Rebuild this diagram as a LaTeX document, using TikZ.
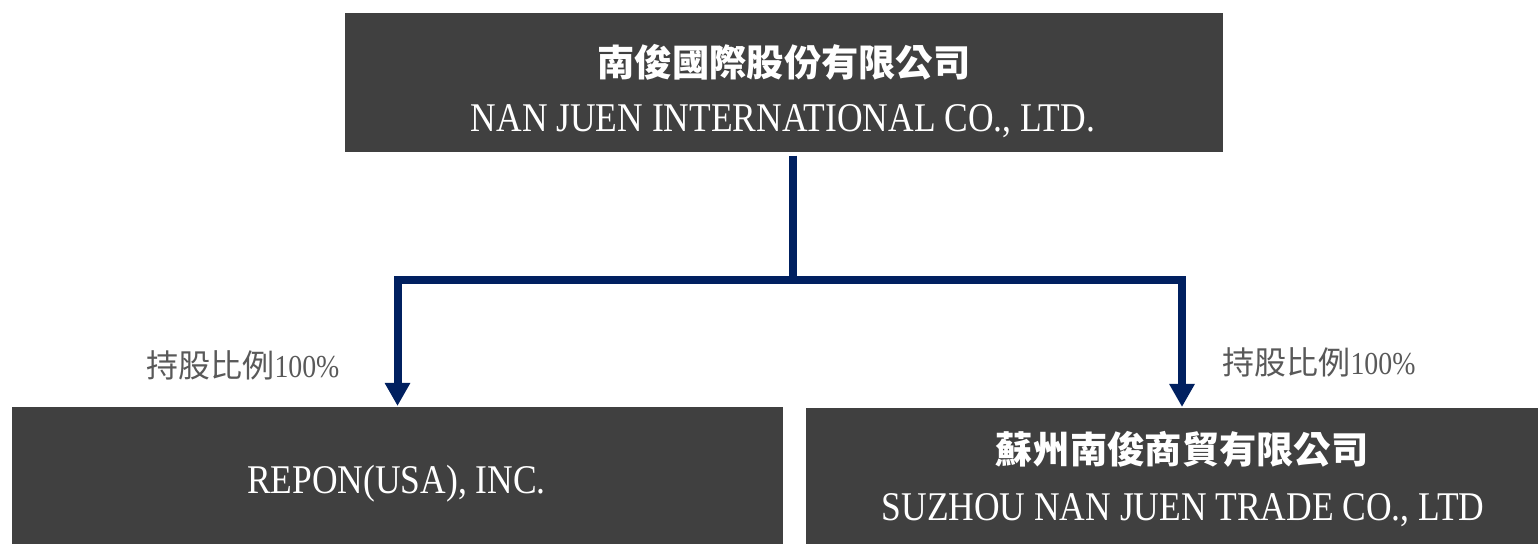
\documentclass[tikz,border=0pt]{standalone}
\usepackage{fontspec}
\setmainfont{Liberation Serif}[FakeStretch=0.87]
\newfontfamily\cjk{Noto Sans CJK TC}
\usetikzlibrary{arrows.meta,positioning}

\definecolor{boxgrey}{HTML}{404040}
\definecolor{linkblue}{HTML}{002060}
\definecolor{sharegrey}{HTML}{595959}

\tikzset{
	boxnode/.style = {fill=boxgrey, inner sep=0pt},
	zhname/.style = {text=white, inner sep=0pt, font=\cjk\bfseries\fontsize{10.6}{12}\selectfont},
	enname/.style = {text=white, inner sep=0pt, font=\fontsize{11.6}{13}\selectfont},
	share/.style = {text=sharegrey, inner sep=0pt, font=\fontsize{9.1}{11}\selectfont},
	link/.style = {draw=linkblue, line width=0.08cm},
}

\begin{document}
\begin{tikzpicture}
	\useasboundingbox (0,0) rectangle (15.38,-5.44);
	% parent company
	\node[boxnode, minimum width=8.78cm, minimum height=1.39cm] (parent) at (7.84,-0.825) {};
	\node[zhname, anchor=base] (parentzh) at (7.84,-0.77) {南俊國際股份有限公司};
	\node[enname, anchor=base] (parenten) at (7.83,-1.315) {NAN JUEN INTERNATIONAL CO., LTD.};
	% subsidiaries
	\node[boxnode, minimum width=7.71cm, minimum height=1.54cm, anchor=north] (usa) at (3.975,-4.06) {};
	\node[enname, anchor=base] (usaen) at (3.965,-4.933) {REPON(USA), INC.};
	\node[boxnode, minimum width=7.52cm, minimum height=1.54cm, anchor=north] (suzhou) at (11.82,-4.07) {};
	\node[zhname, anchor=base] (suzhouzh) at (11.82,-4.64) {蘇州南俊商貿有限公司};
	\node[enname, anchor=base] (suzhouen) at (11.83,-5.207) {SUZHOU NAN JUEN TRADE CO., LTD};
	% links
	\coordinate (split) at (7.93,-2.805);
	\draw[link, shorten <=0.03cm] (parent.south -| split) -- (split);
	\draw[link, -{Triangle[width=0.24cm, length=0.23cm]}] (split) -| (usa.north);
	\draw[link, -{Triangle[width=0.24cm, length=0.23cm]}] (split) -| (suzhou.north);
	\node[share, anchor=base] (usashare) at (2.43,-3.78) {{\cjk 持股比例}100\%};
	\node[share, anchor=base] (suzhoushare) at (13.19,-3.75) {{\cjk 持股比例}100\%};
\end{tikzpicture}
\end{document}
